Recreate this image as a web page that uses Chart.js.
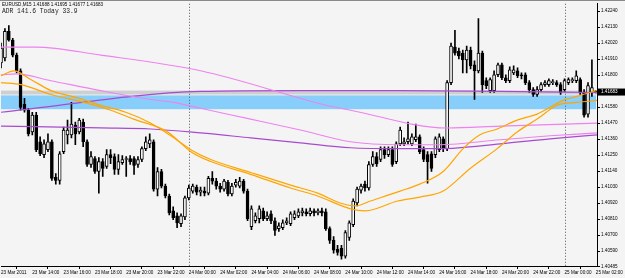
<!DOCTYPE html>
<html>
<head>
<meta charset="utf-8">
<script src="https://cdn.jsdelivr.net/npm/chart.js@4.4.1/dist/chart.umd.min.js"></script>
<style>
html, body { margin: 0; padding: 0; background: #f4f4f4; }
#wrap { width: 625px; height: 278px; }
</style>
</head>
<body>
<div id="wrap"><canvas id="chart" width="625" height="278"></canvas></div>
<script>
// EURUSD M15, one candle per 15 minutes, first candle 23 Mar 12:00
const open = [1.41883,1.41917,1.42100,1.42040,1.41937,1.41829,1.41598,1.41558,1.41409,1.41524,
  1.41341,1.41253,1.41287,1.41341,1.41096,1.41076,1.41273,1.41389,1.41389,1.41456,
  1.41409,1.41476,1.41341,1.41185,1.41226,1.41137,1.41205,1.41171,1.41253,1.41239,
  1.41151,1.41198,1.41219,1.41226,1.41226,1.41185,1.41219,1.41294,1.41327,1.41341,
  1.41016,1.41137,1.41036,1.40968,1.40866,1.40832,1.40778,1.40825,1.40955,1.41002,
  1.41029,1.40995,1.41002,1.40988,1.41090,1.41070,1.41036,1.41016,1.41063,1.40982,
  1.41043,1.41036,1.41070,1.41002,1.40757,1.40798,1.40812,1.40866,1.40812,1.40846,
  1.40798,1.40744,1.40751,1.40784,1.40778,1.40819,1.40832,1.40852,1.40859,1.40846,
  1.40866,1.40852,1.40866,1.40859,1.40744,1.40663,1.40602,1.40609,1.40554,1.40683,
  1.40771,1.40920,1.41009,1.41050,1.41023,1.41185,1.41239,1.41219,1.41287,1.41253,
  1.41287,1.41205,1.41327,1.41327,1.41341,1.41327,1.41355,1.41375,1.41287,1.41253,
  1.41259,1.41253,1.41287,1.41361,1.41294,1.41748,1.41992,1.41964,1.41951,1.41904,
  1.41971,1.41870,1.41829,1.41951,1.41761,1.41693,1.41693,1.41802,1.41870,1.41781,
  1.41761,1.41815,1.41829,1.41802,1.41802,1.41748,1.41700,1.41666,1.41700,1.41734,
  1.41734,1.41748,1.41748,1.41734,1.41700,1.41748,1.41761,1.41761,1.41768,1.41680,
  1.41531,1.41680,1.41688];
const high = [1.42019,1.42120,1.42140,1.42053,1.41951,1.41842,1.41639,1.41571,1.41544,1.41544,
  1.41375,1.41355,1.41395,1.41355,1.41123,1.41273,1.41442,1.41490,1.41612,1.41476,
  1.41503,1.41497,1.41355,1.41273,1.41239,1.41232,1.41226,1.41287,1.41287,1.41259,
  1.41253,1.41246,1.41239,1.41246,1.41239,1.41239,1.41307,1.41375,1.41395,1.41355,
  1.41164,1.41151,1.41050,1.40982,1.40893,1.40852,1.40846,1.40968,1.41043,1.41050,
  1.41043,1.41029,1.41029,1.41103,1.41137,1.41090,1.41056,1.41083,1.41076,1.41056,
  1.41083,1.41096,1.41083,1.41016,1.40900,1.40852,1.40900,1.40886,1.40859,1.40866,
  1.40819,1.40784,1.40805,1.40819,1.40859,1.40866,1.40880,1.40886,1.40880,1.40886,
  1.40880,1.40880,1.40886,1.40880,1.40757,1.40690,1.40629,1.40629,1.40731,1.40798,
  1.40948,1.41029,1.41050,1.41070,1.41205,1.41273,1.41266,1.41307,1.41307,1.41307,
  1.41307,1.41341,1.41442,1.41368,1.41476,1.41395,1.41462,1.41389,1.41307,1.41273,
  1.41273,1.41375,1.41395,1.41375,1.41761,1.42019,1.42107,1.41985,1.41971,1.41999,
  1.41992,1.41897,1.42188,1.41964,1.41781,1.41781,1.41829,1.41883,1.41883,1.41802,
  1.41856,1.41863,1.41849,1.41815,1.41815,1.41761,1.41714,1.41721,1.41748,1.41761,
  1.41774,1.41768,1.41761,1.41748,1.41774,1.41781,1.41781,1.41829,1.41781,1.41700,
  1.41748,1.41904,1.41695];
const low = [1.41849,1.41897,1.42033,1.41924,1.41815,1.41558,1.41544,1.41382,1.41389,1.41273,
  1.41246,1.41232,1.41273,1.41076,1.41050,1.41050,1.41259,1.41327,1.41368,1.41321,
  1.41395,1.41307,1.41171,1.41164,1.41123,1.40988,1.41103,1.41158,1.41191,1.41117,
  1.41117,1.41185,1.41103,1.41185,1.41117,1.41164,1.41205,1.41280,1.41300,1.41002,
  1.40968,1.41023,1.40955,1.40839,1.40805,1.40751,1.40757,1.40805,1.40941,1.40988,
  1.40975,1.40968,1.40968,1.40975,1.41050,1.41016,1.40995,1.41002,1.40968,1.40968,
  1.41029,1.41023,1.40988,1.40798,1.40737,1.40784,1.40784,1.40798,1.40798,1.40778,
  1.40697,1.40724,1.40737,1.40771,1.40764,1.40805,1.40819,1.40832,1.40832,1.40832,
  1.40832,1.40839,1.40832,1.40731,1.40643,1.40575,1.40561,1.40534,1.40541,1.40663,
  1.40757,1.40900,1.40988,1.41002,1.41009,1.41171,1.41171,1.41205,1.41226,1.41239,
  1.41171,1.41191,1.41314,1.41314,1.41327,1.41314,1.41341,1.41259,1.41205,1.41056,
  1.41137,1.41232,1.41273,1.41273,1.41280,1.41734,1.41937,1.41910,1.41815,1.41815,
  1.41842,1.41632,1.41815,1.41680,1.41707,1.41680,1.41680,1.41788,1.41768,1.41748,
  1.41748,1.41802,1.41781,1.41774,1.41734,1.41680,1.41653,1.41653,1.41687,1.41721,
  1.41721,1.41734,1.41721,1.41666,1.41687,1.41734,1.41748,1.41748,1.41666,1.41510,
  1.41510,1.41653,1.41677];
const close = [1.41985,1.42100,1.42040,1.41937,1.41829,1.41578,1.41558,1.41395,1.41524,1.41287,
  1.41259,1.41327,1.41341,1.41090,1.41076,1.41259,1.41422,1.41422,1.41462,1.41395,
  1.41490,1.41341,1.41185,1.41239,1.41137,1.41205,1.41158,1.41253,1.41232,1.41151,
  1.41205,1.41219,1.41226,1.41205,1.41178,1.41219,1.41294,1.41341,1.41355,1.41016,
  1.41137,1.41036,1.40968,1.40852,1.40819,1.40784,1.40832,1.40955,1.41023,1.41036,
  1.40995,1.41009,1.40988,1.41090,1.41070,1.41036,1.41016,1.41070,1.40982,1.41036,
  1.41063,1.41070,1.41002,1.40812,1.40880,1.40832,1.40880,1.40812,1.40832,1.40798,
  1.40731,1.40764,1.40784,1.40798,1.40846,1.40846,1.40859,1.40866,1.40846,1.40866,
  1.40852,1.40866,1.40852,1.40744,1.40663,1.40595,1.40581,1.40554,1.40717,1.40784,
  1.40934,1.41016,1.41036,1.41023,1.41185,1.41239,1.41191,1.41287,1.41253,1.41287,
  1.41185,1.41327,1.41422,1.41341,1.41361,1.41375,1.41375,1.41273,1.41219,1.41205,
  1.41158,1.41361,1.41375,1.41294,1.41748,1.41999,1.41951,1.41931,1.41904,1.41971,
  1.41863,1.41829,1.41951,1.41734,1.41727,1.41768,1.41802,1.41870,1.41781,1.41761,
  1.41836,1.41836,1.41795,1.41795,1.41748,1.41700,1.41666,1.41700,1.41734,1.41748,
  1.41761,1.41754,1.41734,1.41680,1.41761,1.41768,1.41768,1.41795,1.41680,1.41524,
  1.41727,1.41714,1.41683];

// moving averages, [candle index, price]
const maFast = [[0,1.41795],[3.3,1.41829],[7.7,1.41768],[12.8,1.41693],[19.1,1.41646],[25.5,1.41592],
  [31.9,1.41544],[38.3,1.41469],[43.4,1.41382],[48.5,1.41287],[53.6,1.41219],[63.8,1.41130],
  [74,1.41043],[80.9,1.40988],[86.7,1.40920],[90.6,1.40900],[94.4,1.40934],[102,1.41002],
  [107,1.41050],[113,1.41137],[118.1,1.41294],[122.4,1.41389],[126.8,1.41429],[131.9,1.41490],
  [137,1.41531],[140.3,1.41578],[143.6,1.41626],[147.2,1.41653],[151.3,1.41687],[152.3,1.41693]];
const maSlow = [[0,1.41748],[5.1,1.41734],[12.8,1.41666],[21.2,1.41612],[28.1,1.41558],[33.9,1.41497],
  [42.6,1.41409],[48.5,1.41273],[53.6,1.41205],[63.8,1.41117],[74,1.41023],[80.9,1.40968],
  [89.3,1.40880],[93.1,1.40866],[101.3,1.40934],[107.1,1.40961],[113,1.41002],[119.9,1.41158],
  [126.8,1.41294],[131.9,1.41409],[137,1.41497],[142.1,1.41592],[147.2,1.41612],[152.3,1.41626]];
const pinkUpper = [[0,1.41992],[8.9,1.41992],[25.5,1.41937],[51,1.41829],[84.2,1.41585],[89.3,1.41558],
  [114,1.41436],[127.6,1.41449],[152.3,1.41469]];
const pinkLower = [[0,1.41801],[3.8,1.41808],[12.8,1.41761],[25.5,1.41693],[38.3,1.41632],[44.1,1.41612],
  [51,1.41571],[63.8,1.41497],[76.5,1.41422],[89.3,1.41341],[102,1.41321],[112.2,1.41321],
  [127.6,1.41355],[140.3,1.41382],[152.3,1.41402]];
const purpleUpper = [[0,1.41544],[51,1.41687],[76.5,1.41693],[102,1.41693],[127.6,1.41687],[152.3,1.41680]];
const purpleLower = [[0,1.41449],[25.5,1.41436],[38.3,1.41429],[51,1.41402],[63.8,1.41368],[76.5,1.41334],
  [89.3,1.41300],[102,1.41294],[112.2,1.41294],[127.6,1.41327],[140.3,1.41361],[152.3,1.41389]];

const zoneBand = [1.41660, 1.41565];
const bidBand = [1.41693, 1.41666];
const daySeparators = [48, 144];

const priceTicks = [1.42240,1.42130,1.42020,1.41910,1.41800,1.41580,1.41470,1.41360,
  1.41250,1.41140,1.41030,1.40920,1.40810,1.40700,1.40590,1.40485];
const timeTicks = [0,8,16,24,32,40,48,56,64,72,80,88,96,104,112,120,128,136,144,152];
const timeLabels = ['23 Mar 2011','23 Mar 14:00','23 Mar 16:00','23 Mar 18:00','23 Mar 20:00',
  '23 Mar 22:00','24 Mar 00:00','24 Mar 02:00','24 Mar 04:00','24 Mar 06:00','24 Mar 08:00',
  '24 Mar 10:00','24 Mar 12:00','24 Mar 14:00','24 Mar 16:00','24 Mar 18:00','24 Mar 20:00',
  '24 Mar 22:00','25 Mar 00:00','25 Mar 02:00'];

const last = open.length - 1;
const toPts = arr => arr.map(p => ({ x: p[0], y: p[1] }));

const lineSet = (data, color, width) => ({
    type: 'line', data: toPts(data), borderColor: color, borderWidth: width,
    pointRadius: 0, cubicInterpolationMode: 'monotone', fill: false, order: 0
});

const overlays = {
    id: 'overlays',
    beforeDatasetsDraw(chart) {
        const { ctx, chartArea: a, scales: { x, y } } = chart;
        ctx.save();
        // rectangle zone + bid band
        ctx.fillStyle = '#87cefa';
        let y1 = y.getPixelForValue(zoneBand[0]), y2 = y.getPixelForValue(zoneBand[1]);
        ctx.fillRect(a.left, y1, a.right - a.left - 1, y2 - y1);
        ctx.fillStyle = '#cfcfcf';
        y1 = y.getPixelForValue(bidBand[0]); y2 = y.getPixelForValue(bidBand[1]);
        ctx.fillRect(a.left, y1, a.right - a.left, y2 - y1);
        // day separators
        ctx.strokeStyle = '#555';
        ctx.lineWidth = 1;
        ctx.setLineDash([1, 2]);
        daySeparators.forEach(d => {
            const px = Math.round(x.getPixelForValue(d)) + 0.5;
            ctx.beginPath();
            ctx.moveTo(px, a.top);
            ctx.lineTo(px, a.bottom);
            ctx.stroke();
        });
        ctx.restore();
    },
    afterDraw(chart) {
        const { ctx, chartArea: a, scales: { y } } = chart;
        ctx.save();
        // frame top line
        ctx.fillStyle = '#8a8a8a';
        ctx.fillRect(0, 0, chart.width, 1);
        // current price label
        const py = y.getPixelForValue(close[last]);
        ctx.fillStyle = '#000';
        ctx.fillRect(a.right + 1, py - 3.5, chart.width - a.right - 1, 7);
        ctx.fillStyle = '#fff';
        ctx.font = '4.6px "Liberation Sans"';
        ctx.textBaseline = 'middle';
        ctx.fillText(close[last].toFixed(5), a.right + 4, py);
        // header
        ctx.fillStyle = '#000';
        ctx.fillText('EURUSD,M15 ' + [open[last], high[last], low[last], close[last]].map(v => v.toFixed(5)).join(' '), 2, 5);
        ctx.fillStyle = '#222';
        ctx.font = '6.3px "Liberation Mono"';
        ctx.fillText('ADR 141.6 Today 33.9', 2, 11);
        ctx.restore();
    }
};

const ctx = document.getElementById('chart').getContext('2d');
new Chart(ctx, {
    type: 'bar',
    data: {
        datasets: [
            lineSet(maFast, '#ffa500', 1.2),
            lineSet(maSlow, '#ffa500', 1.2),
            lineSet(pinkUpper, '#ee82ee', 1.1),
            lineSet(pinkLower, '#ee82ee', 1.1),
            lineSet(purpleUpper, '#a64bd0', 1.2),
            lineSet(purpleLower, '#a64bd0', 1.2),
            {
                label: 'body',
                data: open.map((o, i) => ({ x: i, y: [o, close[i]] })),
                backgroundColor: c => close[c.dataIndex] >= open[c.dataIndex] ? '#ffffff' : '#000000',
                borderColor: '#000',
                borderWidth: 1,
                borderSkipped: false,
                grouped: false,
                barThickness: 3,
                maxBarThickness: 3,
                minBarLength: 1,
                order: 1
            },
            {
                label: 'wick',
                data: low.map((l, i) => ({ x: i, y: [l, high[i]] })),
                backgroundColor: '#000',
                borderWidth: 0,
                grouped: false,
                barThickness: 1,
                maxBarThickness: 1,
                order: 2
            }
        ]
    },
    options: {
        responsive: false,
        animation: false,
        layout: { padding: 0 },
        plugins: { legend: { display: false }, tooltip: { enabled: false } },
        scales: {
            x: {
                type: 'linear',
                offset: false,
                min: 0,
                max: 152.3,
                afterBuildTicks: s => { s.ticks = timeTicks.map(v => ({ value: v })); },
                afterFit: s => { s.height = 12; },
                grid: { drawOnChartArea: false, drawTicks: true, tickLength: 3, color: '#000' },
                border: { display: true, color: '#000' },
                ticks: {
                    align: 'start',
                    autoSkip: false,
                    maxRotation: 0,
                    padding: 1,
                    color: '#000',
                    font: { family: 'Liberation Sans', size: 4.6 },
                    callback: v => timeLabels[timeTicks.indexOf(v)]
                }
            },
            y: {
                position: 'right',
                min: 1.40487,
                max: 1.42290,
                afterBuildTicks: s => { s.ticks = priceTicks.map(v => ({ value: v })); },
                afterFit: s => { s.width = 28; },
                grid: { drawOnChartArea: false, drawTicks: true, tickLength: 3, color: '#000' },
                border: { display: true, color: '#000' },
                ticks: {
                    padding: 1,
                    color: '#000',
                    font: { family: 'Liberation Sans', size: 4.6 },
                    callback: v => v.toFixed(5)
                }
            }
        }
    },
    plugins: [overlays]
});
</script>
</body>
</html>
